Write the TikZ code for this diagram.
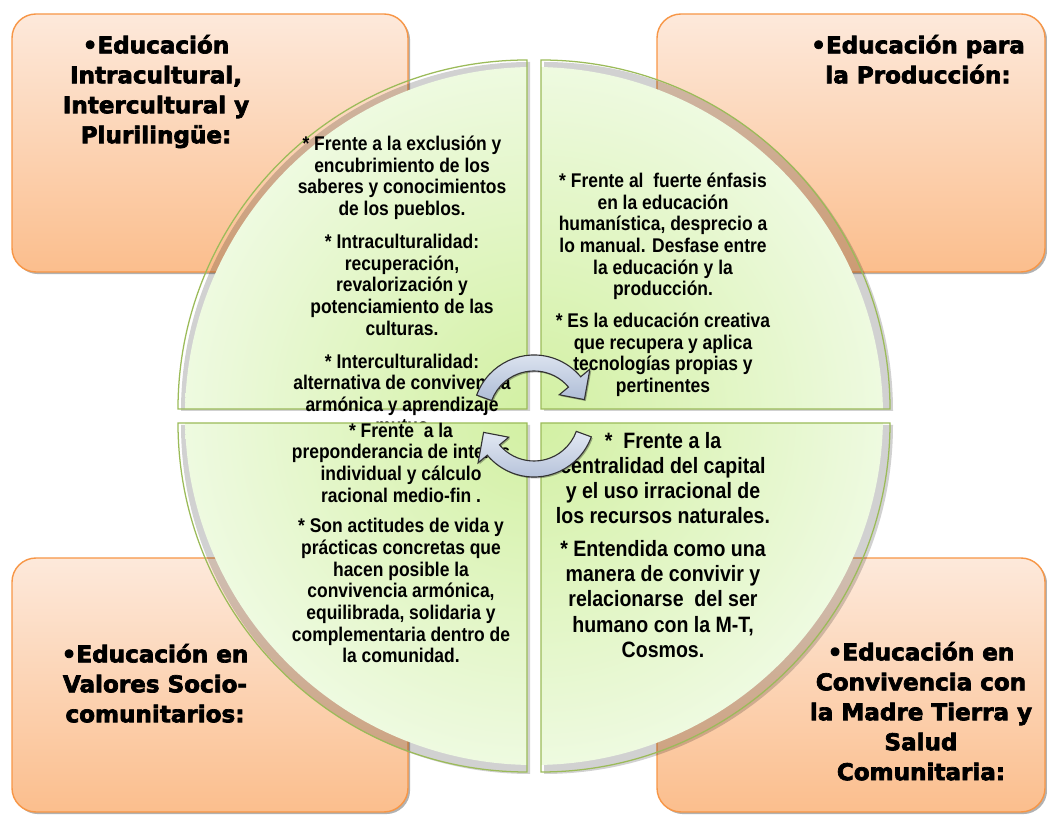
\documentclass[tikz,border=0pt]{standalone}
\usepackage{fontspec}
\setmainfont{Liberation Sans}
\newfontfamily\bodyfont{Liberation Sans}[FakeStretch=0.88]
\newfontfamily\titlefont{DejaVu Sans Bold}[FakeBold=3]
\usetikzlibrary{shadows}

\definecolor{boxtop}{HTML}{FDE9DB}
\definecolor{boxbottom}{HTML}{FBBE8D}
\definecolor{boxline}{HTML}{F79646}
\definecolor{quadinner}{HTML}{D2F0A2}
\definecolor{quadouter}{HTML}{EEFAE0}
\definecolor{quadline}{HTML}{9BBB59}
\definecolor{arrowtop}{HTML}{E3E9F3}
\definecolor{arrowbottom}{HTML}{AEBCD6}

\begin{document}
\begin{tikzpicture}[x=0.025cm, y=0.025cm,
    orangebox/.style={draw=boxline, line width=1pt, rounded corners=0.6cm,
        top color=boxtop, bottom color=boxbottom,
        drop shadow={shadow xshift=1.5pt, shadow yshift=-1.5pt, opacity=.3, fill=black}},
    titletext/.style={font={\titlefont\fontsize{16.4}{21.3}\selectfont},
        align=center, anchor=north, inner sep=0pt},
    bodytext/.style={font={\bodyfont\bfseries\fontsize{14.1}{15.4}\selectfont},
        align=center, anchor=north, inner sep=0pt},
    cyclearrow/.style={draw=black!80, line width=0.8pt, top color=arrowtop, bottom color=arrowbottom,
        drop shadow={shadow xshift=1pt, shadow yshift=-1pt, opacity=.3, fill=black}}]
    \useasboundingbox (0,0) rectangle (1047,815);

    % Orange boxes in the corners
    \path[orangebox] (12,543) rectangle (408,801);
    \path[orangebox] (657,543) rectangle (1045,801);
    \path[orangebox] (12,3) rectangle (408,257);
    \path[orangebox] (657,3) rectangle (1045,257);

    \node[titletext] (tl-title) at (156,785) {\rule{0pt}{1em}•Educación\\ Intracultural,\\ Intercultural y\\ Plurilingüe:};
    \node[titletext] (tr-title) at (918,785) {\rule{0pt}{1em}•Educación para\\ la Producción:};
    \node[titletext] (bl-title) at (155,176) {\rule{0pt}{1em}•Educación en\\ Valores Socio-\\ comunitarios:};
    \node[titletext] (br-title) at (921,178) {\rule{0pt}{1em}•Educación en\\ Convivencia con\\ la Madre Tierra y\\ Salud\\ Comunitaria:};

    % Center of the circle
    \coordinate (center) at (534,399);

    % Upper quarters
    \foreach \dx/\dy/\a in {-7/7/90, 7/7/0} {
        \fill[black, opacity=.18] ([shift={(\dx+3,\dy-2)}]center) -- ++(\a:349) arc[start angle=\a, end angle=\a+90, radius=349] -- cycle;
        \begin{scope}
            \clip ([shift={(\dx,\dy)}]center) -- ++(\a:349) arc[start angle=\a, end angle=\a+90, radius=349] -- cycle;
            \shade[inner color=quadinner, outer color=quadouter] (center) circle (349);
        \end{scope}
        \draw[quadline, line width=0.9pt] ([shift={(\dx,\dy)}]center) -- ++(\a:349) arc[start angle=\a, end angle=\a+90, radius=349] -- cycle;
    }

    \node[bodytext] (tl-text) at (402,684.5) {\rule{0pt}{1em}{*} Frente a la exclusión y\\ encubrimiento de los\\ saberes y conocimientos\\ de los pueblos.\\[8pt] {*} Intraculturalidad:\\ recuperación,\\ revalorización y\\ potenciamiento de las\\ culturas.\\[8pt] {*} Interculturalidad:\\ alternativa de convivencia\\ armónica y aprendizaje\\ mutuo};
    \node[bodytext] (tr-text) at (663,647.5) {\rule{0pt}{1em}{*} Frente al~ fuerte énfasis\\ en la educación\\ humanística, desprecio a\\ lo manual. Desfase entre\\ la educación y la\\ producción.\\[7pt] {*} Es la educación creativa\\ que recupera y aplica\\ tecnologías propias y\\ pertinentes};

    % Lower quarters
    \foreach \dx/\dy/\a in {-7/-7/180, 7/-7/270} {
        \fill[black, opacity=.18] ([shift={(\dx+3,\dy-2)}]center) -- ++(\a:349) arc[start angle=\a, end angle=\a+90, radius=349] -- cycle;
        \begin{scope}
            \clip ([shift={(\dx,\dy)}]center) -- ++(\a:349) arc[start angle=\a, end angle=\a+90, radius=349] -- cycle;
            \shade[inner color=quadinner, outer color=quadouter] (center) circle (349);
        \end{scope}
        \draw[quadline, line width=0.9pt] ([shift={(\dx,\dy)}]center) -- ++(\a:349) arc[start angle=\a, end angle=\a+90, radius=349] -- cycle;
    }

    \node[bodytext] (bl-text) at (401,398) {\rule{0pt}{1em}{*} Frente~ a la\\ preponderancia de interés\\ individual y cálculo\\ racional medio-fin .\\[6.5pt] {*} Son actitudes de vida y\\ prácticas concretas que\\ hacen posible la\\ convivencia armónica,\\ equilibrada, solidaria y\\ complementaria dentro de\\ la comunidad.};
    \node[bodytext, font={\bodyfont\bfseries\fontsize{15.8}{17.8}\selectfont}] (br-text) at (663,388.7) {\rule{0pt}{1em}{*}~ Frente a la\\ centralidad del capital\\ y el uso irracional de\\ los recursos naturales.\\[5.7pt] {*} Entendida como una\\ manera de convivir y\\ relacionarse~ del ser\\ humano con la M-T,\\ Cosmos.};

    % Cycle arrows
    \begin{scope}[shift={(center)}]
        \foreach \rot in {0,180}
            \path[cyclearrow, rotate=\rot] (160:45) -- (160:61) arc[start angle=160, end angle=40, radius=61] -- (40:73) -- (18:53) -- (40:33) -- (40:45) arc[start angle=40, end angle=160, radius=45] -- cycle;
    \end{scope}
\end{tikzpicture}
\end{document}
